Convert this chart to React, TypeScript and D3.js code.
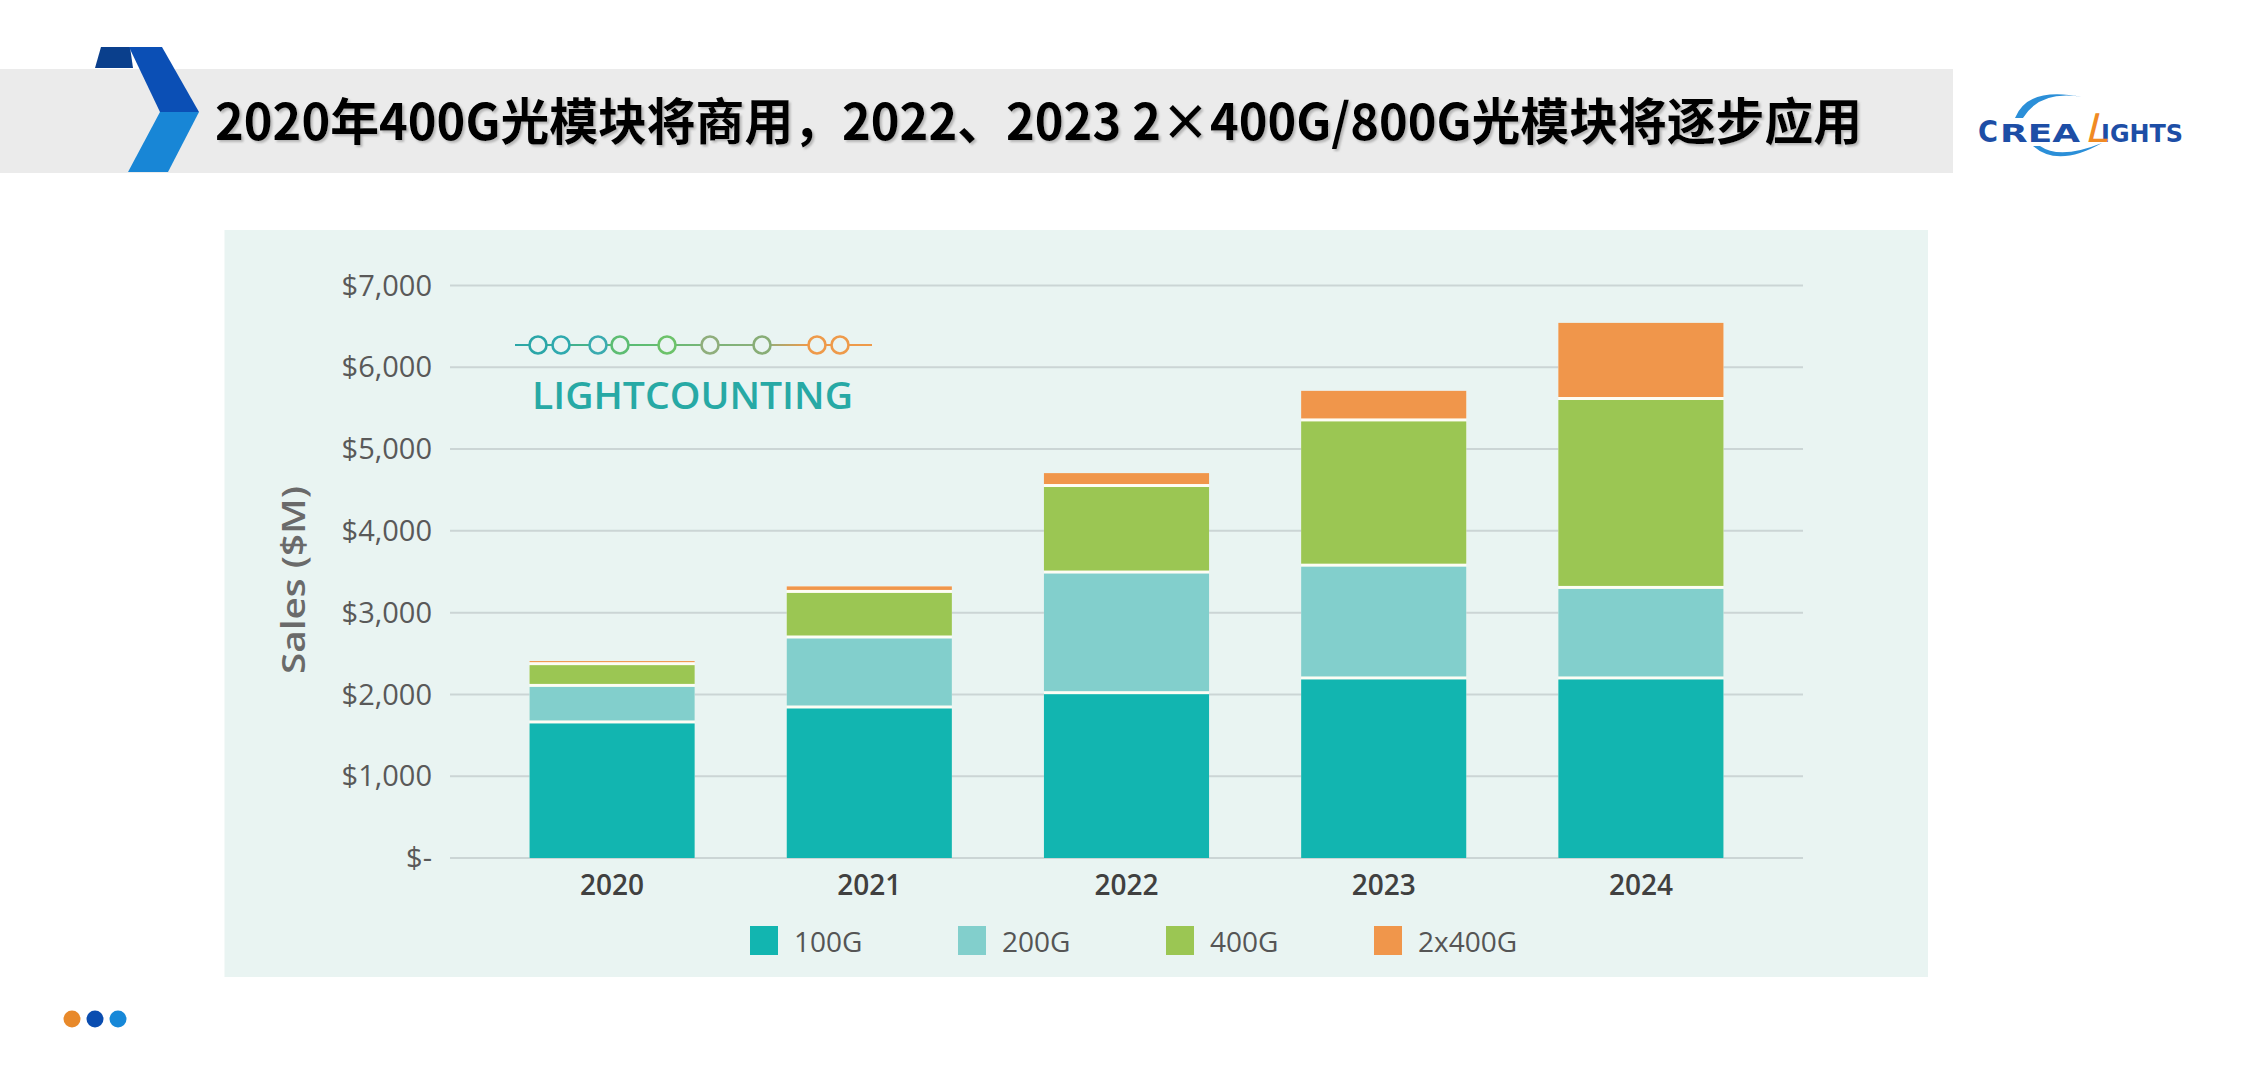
import React from "react";
import * as d3 from "d3";

// values ($M)
const years = ["2020", "2021", "2022", "2023", "2024"];
const seriesKeys = ["100G", "200G", "400G", "2x400G"];
const sales100G = [1645, 1828, 2003, 2183, 2183];
const sales200G = [447, 856, 1475, 1379, 1107];
const sales400G = [266, 557, 1058, 1776, 2310];
const sales2x400G = [50, 80, 170, 374, 943];
const yTicks = [0, 1000, 2000, 3000, 4000, 5000, 6000, 7000];
const seriesColors = ["#12b5b0", "#82cfcc", "#9bc653", "#f0964b"];

// decorative "LIGHTCOUNTING" bead line: offsets and colours
const beadOffsets = [23, 46, 83, 105, 152, 195, 247, 302, 325];
const beadColors = ["#2aa6a8", "#2ea9ae", "#3aabb0", "#5dbd72", "#6cc26a", "#8fae7c", "#88ad76", "#ee9a4a", "#ee9a4a"];

const W = 2247;
const H = 1082;
const sans = "'Open Sans', 'Noto Sans', sans-serif";

export default function App() {
  const rows = years.map((year, i) => ({
    year,
    "100G": sales100G[i],
    "200G": sales200G[i],
    "400G": sales400G[i],
    "2x400G": sales2x400G[i],
  }));
  const stacked = d3.stack<any>().keys(seriesKeys)(rows);
  const totals = rows.map((r) => d3.sum(seriesKeys, (k) => r[k] as number));

  const x = d3.scaleBand<string>()
    .domain(years)
    .range([483.5, 1769.5])
    .paddingInner(0.358)
    .paddingOuter(0.179);
  const y = d3.scaleLinear().domain([0, 7000]).range([858, 285.5]);
  const color = d3.scaleOrdinal<string, string>().domain(seriesKeys).range(seriesColors);
  const fmt = (v: number) => (v === 0 ? "$-" : d3.format("$,")(v));
  const gap = 3;

  const beadX0 = 515;
  const beadY = 345;

  return (
    <svg width={W} height={H} style={{ position: "fixed", left: 0, top: 0, background: "#fff" }}>
      <defs>
        <filter id="tshadow" x="-5%" y="-30%" width="110%" height="160%">
          <feDropShadow dx="2" dy="2" stdDeviation="1.2" floodColor="#888" floodOpacity="0.55" />
        </filter>
        <linearGradient id="beadLine" gradientUnits="userSpaceOnUse" x1={beadX0} x2={beadX0 + 357} y1={beadY} y2={beadY}>
          <stop offset="0%" stopColor="#2aa6a8" />
          <stop offset="35%" stopColor="#5dbd72" />
          <stop offset="70%" stopColor="#8fae7c" />
          <stop offset="82%" stopColor="#ee9a4a" />
          <stop offset="100%" stopColor="#ee9a4a" />
        </linearGradient>
      </defs>

      {/* header banner */}
      <rect x={0} y={69} width={1953} height={104} fill="#ebebeb" />
      <polygon points="101,47 130,47 133,68 95,68" fill="#0a3f8c" />
      <polygon points="129,47 162,47 199,112 160,112" fill="#0b4fb5" />
      <polygon points="160,112 199,112 168,172 128,172" fill="#1886d6" />
      <text
        x={215}
        y={140}
        fontFamily="'Noto Sans CJK SC', sans-serif"
        fontWeight={700}
        fontSize={50}
        textLength={1647}
        lengthAdjust="spacingAndGlyphs"
        fill="#000"
        filter="url(#tshadow)"
      >
        2020年400G光模块将商用，2022、2023 2×400G/800G光模块将逐步应用
      </text>

      {/* CreaLights logo */}
      <path d="M2015,118 Q2028,86 2082,97 Q2040,90 2023,118 Z" fill="#2b8fd8" />
      <path d="M2033,146 Q2058,168 2102,143 Q2060,160 2040,146 Z" fill="#2b8fd8" />
      <text x={1978} y={142} fontFamily="'DejaVu Sans', sans-serif" fontWeight={700} fill="#1d4ea6">
        <tspan fontSize={31} textLength={20} lengthAdjust="spacingAndGlyphs">C</tspan>
        <tspan x={2000} fontSize={24} textLength={80} lengthAdjust="spacingAndGlyphs">REA</tspan>
        <tspan x={2101} fontSize={24} textLength={82} lengthAdjust="spacingAndGlyphs">IGHTS</tspan>
      </text>
      <g transform="translate(2085,142) skewX(-14)">
        <text x={0} y={0} fontFamily="'Liberation Sans', sans-serif" fontSize={42} fill="#f08a24">L</text>
      </g>

      {/* chart panel */}
      <rect x={224.5} y={230} width={1703.5} height={747} fill="#e9f4f2" />

      {/* gridlines + y labels */}
      {yTicks.map((t) => (
        <g key={t}>
          <line x1={450} x2={1803} y1={y(t)} y2={y(t)} stroke="#cbd5d5" strokeWidth={2} />
          <text x={432} y={y(t)} dy="0.35em" textAnchor="end" fontFamily={sans} fontSize={29} fill="#595959">
            {fmt(t)}
          </text>
        </g>
      ))}
      <text
        transform="translate(305,580) rotate(-90)"
        textAnchor="middle"
        fontFamily={sans}
        fontWeight={600}
        fontSize={33}
        fill="#6a6a6a"
        textLength={188}
        lengthAdjust="spacingAndGlyphs"
      >
        Sales ($M)
      </text>

      {/* LightCounting mark */}
      <line x1={beadX0} x2={beadX0 + 357} y1={beadY} y2={beadY} stroke="url(#beadLine)" strokeWidth={2} />
      {beadOffsets.map((o, i) => (
        <circle key={i} cx={beadX0 + o} cy={beadY} r={8.5} fill="#e9f4f2" stroke={beadColors[i]} strokeWidth={2.6} />
      ))}
      <text
        x={532}
        y={409}
        fontFamily={sans}
        fontWeight={600}
        fontSize={38}
        fill="#27a9a5"
        textLength={321}
        lengthAdjust="spacingAndGlyphs"
      >
        LIGHTCOUNTING
      </text>

      {/* bars */}
      {years.map((yr, i) => (
        <rect key={"bg" + yr} x={x(yr)} y={y(totals[i])} width={x.bandwidth()} height={y(0) - y(totals[i])} fill="#fdfdf4" />
      ))}
      {stacked.map((layer, k) =>
        layer.map((d: any) => {
          const top = y(d[1]);
          const bottom = y(d[0]) - (k > 0 ? gap : 0);
          return (
            <rect
              key={layer.key + d.data.year}
              x={x(d.data.year)}
              y={top}
              width={x.bandwidth()}
              height={Math.max(0, bottom - top)}
              fill={color(layer.key)}
            />
          );
        })
      )}

      {/* x labels */}
      {years.map((yr) => (
        <text
          key={"lbl" + yr}
          x={(x(yr) as number) + x.bandwidth() / 2}
          y={895}
          textAnchor="middle"
          fontFamily={sans}
          fontWeight={600}
          fontSize={28}
          fill="#404040"
        >
          {yr}
        </text>
      ))}

      {/* legend */}
      {seriesKeys.map((k, i) => (
        <g key={"lg" + k} transform={`translate(${750 + i * 208},926)`}>
          <rect x={0} y={0} width={28} height={29} fill={color(k)} />
          <text x={44} y={26} fontFamily={sans} fontSize={28} fill="#555">
            {k}
          </text>
        </g>
      ))}

      {/* footer dots */}
      <circle cx={72} cy={1019} r={8.5} fill="#e8892a" />
      <circle cx={95} cy={1019} r={8.5} fill="#0a4db0" />
      <circle cx={118} cy={1019} r={8.5} fill="#1788d8" />
    </svg>
  );
}
